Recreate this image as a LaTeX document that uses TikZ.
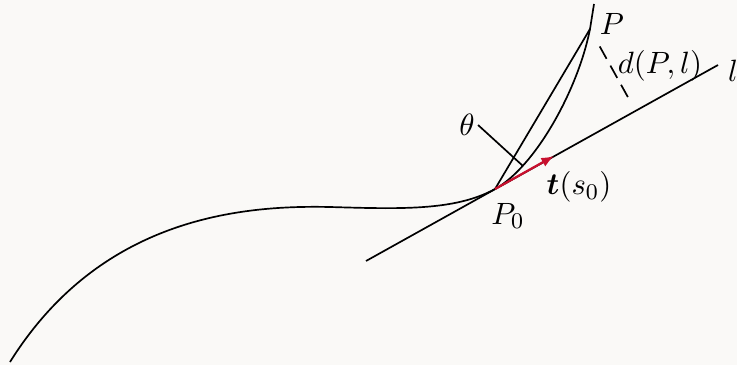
\documentclass[tikz,border=0pt]{standalone}
\usepackage{amsmath}
\usetikzlibrary{calc,arrows.meta}
\definecolor{fondo}{RGB}{250,249,247}
\definecolor{rojo}{RGB}{200,16,46}

\begin{document}
\begin{tikzpicture}[x=0.125cm,y=-0.125cm, every node/.style={font=\fontsize{11}{13}\selectfont}]
                \fill[fondo] (0,0) rectangle (73.7,36.5);
                \useasboundingbox (0,0) rectangle (73.7,36.5);

                \coordinate (P0) at (49.5,18.9);
                \coordinate (P) at (59,2.9);
                \coordinate (lA) at ($(P0)+(-12.9,7.2)$);
                \coordinate (lB) at ($(P0)+(22.3,-12.4)$);
                \coordinate (pie) at ($(lA)!(P)!(lB)$);
                \coordinate (tan) at ($(P0)+(5.9,-3.3)$);

                \draw[semithick] (lA) -- (lB);
                \draw[semithick] (P0) -- (P);
                \draw[semithick]
                (1.0,36.2) .. controls (10,21.8) and (24,20.5) .. (33,20.7)
                .. controls (40,20.9) and (45.5,21.1) .. (P0)
                .. controls (53.5,16.7) and (57.8,9) .. (P) -- (59.4,0.4);
                \draw[semithick, dash pattern=on 5pt off 2.8pt, shorten <=7.1pt, shorten >=5.2pt] (P) -- (pie);
                \draw[thick, rojo, -{Latex[length=4.5pt,width=3.5pt]}] (P0) -- (tan);

                \node[inner sep=1pt] (theta) at (46.7,12.5) {$\theta$};
                \draw[semithick] (theta.east) -- (52.3,16.6);
                \node (etiqP) at (61.2,2.4) {$P$};
                \node (etiqd) at (66.0,6.6) {$d(P,l)$};
                \node (etiql) at (73.3,7.1) {$l$};
                \node (etiqt) at (57.9,18.7) {$\boldsymbol{t}(s_0)$};
                \node (etiqP0) at (50.8,21.6) {$P_0$};
            \end{tikzpicture}
\end{document}
